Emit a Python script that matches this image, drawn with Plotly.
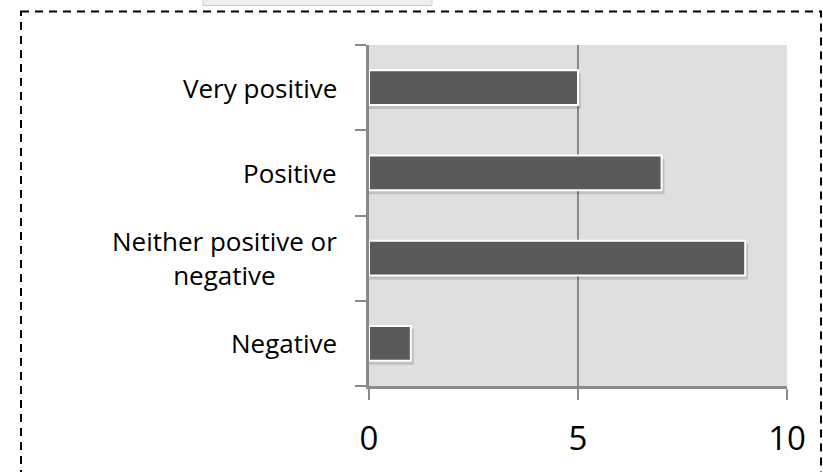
import plotly.graph_objects as go

# Survey responses (counts per sentiment)
categories = ["Very positive", "Positive", "Neither positive or<br>negative", "Negative"]
counts = [5, 7, 9, 1]
x_ticks = [0, 5, 10]

W, H = 823, 472
L, R, T, B = 369, 36, 45, 82
PW, PH = W - L - R, H - T - B


def px_x(p):
    return (p - L) / PW


def px_y(p):
    return (H - B - p) / PH


FONT = "Open Sans"
BAR = "#595959"
AXIS = "#8a8a8a"

# y positions: first category at the top
n = len(categories)
ypos = list(range(n - 1, -1, -1))

fig = go.Figure()

# soft drop shadow behind each bar
fig.add_trace(go.Bar(
    y=ypos, x=[c + 0.07 for c in counts], orientation="h",
    width=0.42, offset=-0.25,
    marker=dict(color="rgba(0,0,0,0.14)", line=dict(width=0)),
    hoverinfo="skip", showlegend=False,
))
fig.add_trace(go.Bar(
    y=ypos, x=counts, orientation="h",
    width=0.41, offset=-0.205,
    marker=dict(color=BAR, line=dict(color="white", width=2)),
    showlegend=False,
))

# category labels, centered text right-aligned to the axis
for yv, lab in zip(ypos, categories):
    fig.add_annotation(
        x=0, xref="paper", y=yv, yref="y", xanchor="right", yanchor="middle",
        xshift=-30, text=lab, showarrow=False, align="center",
        font=dict(family=FONT, size=26, color="black"),
    )

# outer dashed frame and the partial box above it
fig.add_shape(type="rect", xref="paper", yref="paper",
              x0=px_x(203), x1=px_x(432), y0=px_y(-3), y1=px_y(5),
              fillcolor="#efefef", line=dict(color="#cccccc", width=1), layer="below")
fig.add_shape(type="rect", xref="paper", yref="paper",
              x0=px_x(21), x1=px_x(821), y0=px_y(11), y1=px_y(500),
              line=dict(color="black", width=2, dash="8px,6px"), layer="above")

fig.update_layout(
    width=W, height=H,
    margin=dict(l=L, r=R, t=T, b=B),
    paper_bgcolor="white", plot_bgcolor="#dfdfdf",
    barmode="overlay",
    xaxis=dict(
        range=[0, 10], tickvals=x_ticks, ticktext=[str(v) for v in x_ticks],
        showgrid=True, gridcolor=AXIS, gridwidth=2,
        showline=True, linecolor=AXIS, linewidth=3,
        ticks="outside", ticklen=11, tickwidth=2, tickcolor=AXIS,
        ticklabelstandoff=10,
        tickfont=dict(family=FONT, size=33, color="black"),
        zeroline=False, fixedrange=True,
    ),
    yaxis=dict(
        range=[-0.5, n - 0.5], tickvals=[v - 0.5 for v in range(n + 1)],
        showticklabels=False, showgrid=False,
        showline=True, linecolor=AXIS, linewidth=3,
        ticks="outside", ticklen=11, tickwidth=2, tickcolor=AXIS,
        zeroline=False, fixedrange=True,
    ),
)

fig.write_html("out.html")
